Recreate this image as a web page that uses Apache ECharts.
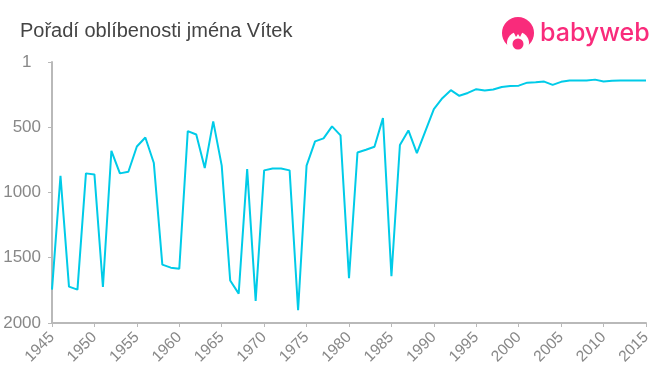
<!DOCTYPE html>
<html>
<head>
<meta charset="utf-8">
<style>
  html, body { margin: 0; padding: 0; background: #fff; }
  #chart { width: 660px; height: 375px; }
</style>
<script src="https://cdn.jsdelivr.net/npm/echarts@6/dist/echarts.min.js"></script>
</head>
<body>
<div id="chart"></div>
<script>
const years = [1945,1946,1947,1948,1949,1950,1951,1952,1953,1954,1955,1956,1957,1958,1959,1960,1961,1962,1963,1964,
  1965,1966,1967,1968,1969,1970,1971,1972,1973,1974,1975,1976,1977,1978,1979,1980,1981,1982,1983,1984,
  1985,1986,1987,1988,1989,1990,1991,1992,1993,1994,1995,1996,1997,1998,1999,2000,2001,2002,2003,2004,
  2005,2006,2007,2008,2009,2010,2011,2012,2013,2014,2015];
const ranks = [1744,872,1721,1744,854,862,1724,681,854,842,648,579,775,1553,1576,1584,530,556,813,456,
  795,1675,1775,821,1831,831,816,816,831,1902,795,609,586,494,563,1657,694,673,650,431,
  1642,637,525,699,530,362,278,217,260,238,209,220,212,192,184,182,159,157,151,176,
  153,143,143,143,136,151,145,143,143,143,143];
const rankTicks = [1, 500, 1000, 1500, 2000];
const yearTicks = [1945,1950,1955,1960,1965,1970,1975,1980,1985,1990,1995,2000,2005,2010,2015];
const titleText = "Pořadí oblíbenosti jména Vítek";
const logoText = "babyweb";

let myChart = echarts.init(document.getElementById("chart"));
let axisLine = { lineStyle: { color: "#b9b9b9", width: 2 } };
let axisTick = { length: 4, lineStyle: { color: "#b9b9b9", width: 1 } };
let logoColor = "#f92b7b";

myChart.setOption({
  animation: false,
  textStyle: { fontFamily: "Liberation Sans" },
  title: {
    text: titleText,
    left: 15,
    top: 16,
    textStyle: { color: "#444", fontSize: 20, fontWeight: "normal", fontFamily: "Liberation Sans" }
  },
  grid: { left: 52, right: 14, top: 62, bottom: 52 },
  xAxis: {
    type: "value",
    min: 1945,
    max: 2015,
    axisLine: axisLine,
    axisTick: { ...axisTick, show: true, customValues: yearTicks },
    splitLine: { show: false },
    axisLabel: {
      customValues: yearTicks,
      rotate: 45,
      margin: 12,
      fontSize: 15.5,
      color: "#888",
      formatter: (v) => String(v),
      showMinLabel: true,
      showMaxLabel: true
    }
  },
  yAxis: {
    type: "value",
    inverse: true,
    min: 1,
    max: 2000,
    axisLine: { ...axisLine, show: true },
    axisTick: { ...axisTick, show: true, customValues: rankTicks },
    splitLine: { show: false },
    axisLabel: {
      customValues: rankTicks,
      margin: 11,
      fontSize: 17,
      color: "#888",
      // the top label sits a little left of the others in the original
      formatter: (v) => (v === 1 ? v + "  " : String(v))
    }
  },
  series: [
    {
      type: "line",
      data: years.map((y, i) => [y, ranks[i]]),
      showSymbol: false,
      smooth: false,
      lineStyle: { color: "#00cbe8", width: 2 }
    }
  ],
  graphic: [
    { type: "circle", shape: { cx: 518, cy: 33, r: 16 }, style: { fill: logoColor } },
    { type: "circle", shape: { cx: 518, cy: 43, r: 11 }, style: { fill: "#fff" } },
    { type: "polygon", shape: { points: [[513, 31], [523, 31], [520, 37], [518, 34], [516, 37]] }, style: { fill: logoColor } },
    { type: "circle", shape: { cx: 518, cy: 44, r: 5.5 }, style: { fill: logoColor } },
    {
      type: "text",
      left: 540,
      top: 21,
      style: { text: logoText, fill: logoColor, fontSize: 25, fontFamily: "Inter", fontWeight: 500 }
    }
  ]
});
</script>
</body>
</html>
